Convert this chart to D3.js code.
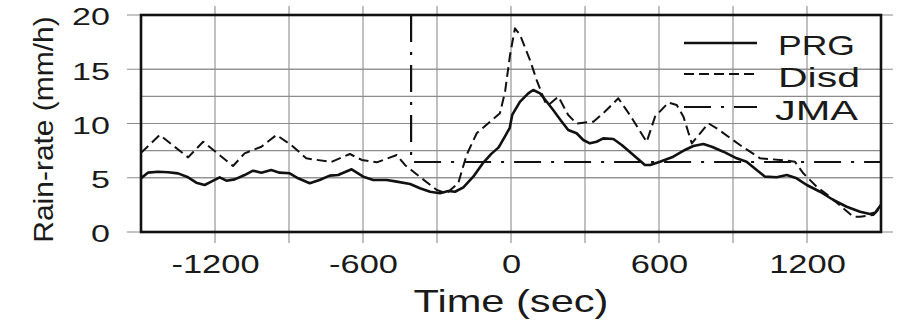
<!DOCTYPE html>
<html><head><meta charset="utf-8">
<script src="https://cdn.jsdelivr.net/npm/d3@7"></script>
<style>body{margin:0;background:#fff;overflow:hidden}</style>
</head><body><svg id="c" width="901" height="321"></svg>
<script>
// ---- data ----
const prgTime = [-1500,-1472,-1431,-1390,-1350,-1309,-1276,-1242,-1215,-1181,-1154,-1120,-1080,-1046,-1012,-972,-938,-897,-863,-816,-776,-735,-701,-646,-599,-558,-504,-463,-409,-369,-328,-288,-254,-227,-193,-153,-112,-80,-50,-22,-5,5,36,70,90,118,145,171,206,232,266,293,320,347,374,415,449,496,543,564,604,658,705,739,780,814,861,915,955,996,1030,1077,1118,1158,1199,1253,1307,1361,1415,1455,1476,1500];
const prgRate = [4.95,5.47,5.56,5.5,5.4,5.04,4.55,4.33,4.64,5.04,4.73,4.85,5.25,5.65,5.47,5.71,5.47,5.41,4.95,4.49,4.79,5.2,5.25,5.78,5.1,4.79,4.79,4.64,4.42,4.03,3.71,3.57,3.78,3.71,4.12,5.1,6.4,7.2,7.8,8.9,9.6,10.8,12.0,12.78,13.09,12.78,12.0,11.24,10.17,9.4,9.1,8.48,8.17,8.32,8.63,8.57,8.02,7.1,6.18,6.18,6.48,6.94,7.56,7.93,8.11,7.86,7.4,6.79,6.48,5.71,5.1,5.04,5.25,4.95,4.33,3.71,2.95,2.33,1.87,1.66,1.78,2.5];
const disdTime = [-1500,-1424,-1309,-1248,-1127,-1080,-1012,-951,-891,-830,-729,-653,-605,-544,-463,-430,-362,-301,-261,-214,-180,-139,-85,-45,-24,-4,16,36,77,104,138,151,192,232,266,334,381,435,482,550,584,638,672,699,733,800,834,928,1010,1091,1151,1185,1239,1293,1347,1388,1415,1469,1500];
const disdRate = [7.3,8.94,6.88,8.32,6.08,7.25,7.86,8.94,8.02,6.79,6.45,7.19,6.64,6.42,7.1,6.18,4.95,3.87,3.57,4.49,7.1,9.1,10.17,10.94,12.93,16.3,18.77,18.2,15.85,14.0,12.0,11.7,12.47,10.78,10.0,10.17,11.1,12.32,10.78,8.3,10.63,11.92,11.7,10.63,8.17,10.02,9.56,8.02,6.79,6.64,6.48,5.41,4.18,3.26,2.18,1.41,1.41,1.57,2.33];
const jmaTime = [-405,-405,1500];
const jmaRate = [20,6.45,6.45];
const xTickLabels = [-1200,-600,0,600,1200];
const xGridValues = [-1200,-900,-600,-300,0,300,600,900,1200];
const yTickLabels = [0,5,10,15,20];
const yGridValues = [5,7.5,10,12.5,15];
const seriesNames = ["PRG","Disd","JMA"];
const xTitle = "Time (sec)";
const yTitle = "Rain-rate (mm/h)";

// ---- layout ----
const L=141, R=881, T=15, B=232;
const FONT = "'Liberation Sans', Arial, Helvetica, sans-serif";
const svg = d3.select("#c");
svg.append("rect").attr("width",901).attr("height",321).attr("fill","#fff");
const x = d3.scaleLinear().domain([-1500,1500]).range([L,R]);
const y = d3.scaleLinear().domain([0,20]).range([B,T]);
const fmt = d => String(d);

// grid
const grid = svg.append("g").attr("stroke","#8c8c8c").attr("stroke-width",1.1);
grid.selectAll(".vg").data(xGridValues).join("line")
  .attr("x1",d=>x(d)).attr("x2",d=>x(d)).attr("y1",T-9).attr("y2",B+11);
grid.selectAll(".hg").data(yGridValues).join("line")
  .attr("x1",L).attr("x2",R).attr("y1",d=>y(d)).attr("y2",d=>y(d));
grid.selectAll(".ht").data(yTickLabels).join("line")
  .attr("x1",L-14).attr("x2",R+12).attr("y1",d=>y(d)).attr("y2",d=>y(d));

// axes labels via d3 axes
const ySx = 1.45, xSx = 1.3;
const gy = svg.append("g").attr("transform",`translate(${L},0)`)
  .call(d3.axisLeft(y).tickValues(yTickLabels).tickFormat(fmt).tickSize(0));
gy.select(".domain").remove();
gy.selectAll("text").attr("font-family",FONT).attr("font-size",23.5).attr("fill","#1a1a1a")
  .attr("text-anchor","end").attr("x",-31/ySx).attr("dy","0.42em")
  .attr("transform",`scale(${ySx},1)`);

const gx = svg.append("g").attr("transform",`translate(0,${B})`)
  .call(d3.axisBottom(x).tickValues(xTickLabels).tickFormat(fmt).tickSize(0));
gx.select(".domain").remove();
gx.selectAll("text").attr("font-family",FONT).attr("font-size",26.5).attr("fill","#1a1a1a")
  .attr("y",41).attr("dy",0).attr("transform",`scale(${xSx},1)`);

// titles
svg.append("text").attr("font-family",FONT).attr("font-size",32).attr("fill","#1a1a1a")
  .attr("text-anchor","middle")
  .attr("transform",`translate(${(L+R)/2},311.5) scale(1.3,1)`).text(xTitle);
svg.append("text").attr("font-family",FONT).attr("font-size",27).attr("fill","#1a1a1a")
  .attr("text-anchor","middle")
  .attr("transform",`translate(52.5,${(T+B)/2+6}) rotate(-90) scale(1.11,1)`).text(yTitle);

// series
svg.append("clipPath").attr("id","clip").append("rect")
  .attr("x",L).attr("y",T).attr("width",R-L).attr("height",B-T);
const line = d3.line().x(d=>x(d[0])).y(d=>y(d[1]));
const plot = svg.append("g").attr("clip-path","url(#clip)").attr("fill","none").attr("stroke","#111");
const styles = [
  {w:2.6, dash:null},
  {w:2.0, dash:"10,5"},
  {w:2.2, dash:"27,10,3,10"}
];
const data = [
  d3.zip(prgTime, prgRate),
  d3.zip(disdTime, disdRate),
  d3.zip(jmaTime, jmaRate)
];
[2,1,0].forEach(i=>{
  plot.append("path").attr("d",line(data[i]))
    .attr("stroke-width",styles[i].w)
    .attr("stroke-dasharray",styles[i].dash)
    .attr("stroke-linejoin","round");
});

// frame
svg.append("rect").attr("x",L).attr("y",T).attr("width",R-L).attr("height",B-T)
  .attr("fill","none").attr("stroke","#111").attr("stroke-width",2.6);

// legend
const legY = [43,74,107];
const legBase = [55,86.5,120];
const legX = [778,778,775];
const legLen = [77,82,83];
const leg = svg.append("g");
seriesNames.forEach((n,i)=>{
  leg.append("line").attr("x1",684).attr("x2",757).attr("y1",legY[i]).attr("y2",legY[i])
    .attr("stroke","#111").attr("stroke-width",styles[i].w).attr("stroke-dasharray",styles[i].dash);
  leg.append("text").attr("x",legX[i]).attr("y",legBase[i]).attr("font-family",FONT)
    .attr("font-size",28).attr("fill","#1a1a1a")
    .attr("textLength",legLen[i]).attr("lengthAdjust","spacingAndGlyphs").text(n);
});
</script>
</body></html>
